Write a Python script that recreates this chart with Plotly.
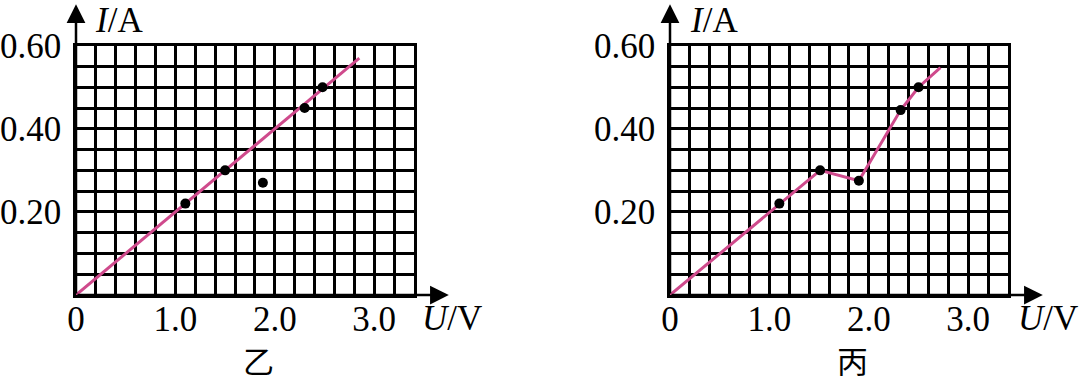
import plotly.graph_objects as go

# ---- data ----
U_yi = [1.10, 1.50, 1.88, 2.30, 2.48]
I_yi = [0.22, 0.30, 0.27, 0.45, 0.50]
U_yi_fit = [0.0, 2.85]
I_yi_fit = [0.0, 0.57]

U_bing = [1.10, 1.51, 1.90, 2.32, 2.50]
I_bing = [0.22, 0.30, 0.275, 0.445, 0.50]
U_bing_line = [0.0, 1.10, 1.51, 1.90, 2.32, 2.50, 2.72]
I_bing_line = [0.0, 0.22, 0.30, 0.275, 0.445, 0.50, 0.547]

x_tickvals = [0, 1.0, 2.0, 3.0]
x_ticktext = ["0", "1.0", "2.0", "3.0"]
y_tickvals = [0.20, 0.40, 0.60]
y_ticktext = ["0.20", "0.40", "0.60"]
panel_names = ["乙", "丙"]

X_MAX, Y_MAX = 3.4, 0.6
X_ARROW, Y_ARROW = 3.75, 0.70

LINE_COLOR = "#cf4a8c"
SERIF = "Liberation Serif"
CJK = "Noto Sans CJK SC"
FS = 35

W, H = 1080, 382
y_dom = [(H - 295) / H, (H - 45.7) / H]
x_doms = [[76 / W, 414 / W], [670 / W, 1008 / W]]

fig = go.Figure()

# left panel
fig.add_trace(go.Scatter(x=U_yi_fit, y=I_yi_fit, mode="lines",
                         line=dict(color=LINE_COLOR, width=3),
                         xaxis="x", yaxis="y", showlegend=False, cliponaxis=False))
fig.add_trace(go.Scatter(x=U_yi, y=I_yi, mode="markers",
                         marker=dict(color="black", size=10),
                         xaxis="x", yaxis="y", showlegend=False))
# right panel
fig.add_trace(go.Scatter(x=U_bing_line, y=I_bing_line, mode="lines",
                         line=dict(color=LINE_COLOR, width=3),
                         xaxis="x2", yaxis="y2", showlegend=False, cliponaxis=False))
fig.add_trace(go.Scatter(x=U_bing, y=I_bing, mode="markers",
                         marker=dict(color="black", size=10),
                         xaxis="x2", yaxis="y2", showlegend=False))


def xaxis_cfg(dom, anchor):
    return dict(domain=dom, anchor=anchor, range=[0, X_MAX], automargin=False,
                tickvals=x_tickvals, ticktext=x_ticktext,
                tickfont=dict(family=SERIF, size=FS, color="black"),
                ticks="", ticklabelstandoff=-9,
                showgrid=True, gridcolor="black", gridwidth=2.5,
                minor=dict(dtick=0.2, tick0=0, showgrid=True, gridcolor="black", gridwidth=2.5),
                showline=True, linecolor="black", linewidth=2.5, mirror=True,
                zeroline=False, fixedrange=True)


def yaxis_cfg(anchor):
    return dict(domain=y_dom, anchor=anchor, range=[0, Y_MAX], automargin=False,
                tickvals=y_tickvals, ticktext=y_ticktext,
                tickfont=dict(family=SERIF, size=FS, color="black"),
                ticks="outside", ticklen=0, ticklabelstandoff=5,
                showgrid=True, gridcolor="black", gridwidth=2.5,
                minor=dict(dtick=0.05, tick0=0, showgrid=True, gridcolor="black", gridwidth=2.5),
                showline=True, linecolor="black", linewidth=2.5, mirror=True,
                zeroline=False, fixedrange=True)


annotations = []
for i, (xr, yr) in enumerate([("x", "y"), ("x2", "y2")]):
    # axis arrows
    annotations.append(dict(x=X_ARROW, y=0, ax=0, ay=0, xref=xr, yref=yr, axref=xr, ayref=yr,
                            text="", showarrow=True, arrowhead=2, arrowsize=1.5,
                            arrowwidth=2.5, arrowcolor="black", standoff=0))
    annotations.append(dict(x=0, y=Y_ARROW, ax=0, ay=0, xref=xr, yref=yr, axref=xr, ayref=yr,
                            text="", showarrow=True, arrowhead=2, arrowsize=1.5,
                            arrowwidth=2.5, arrowcolor="black", standoff=0))

label_pos = [
    dict(ia=(93, 20), uv=(420, 318), name=(258, 359)),
    dict(ia=(688, 20), uv=(1016, 318), name=(852, 359)),
]
for i, lp in enumerate(label_pos):
    annotations.append(dict(text="<i>I</i>/A", xref="paper", yref="paper",
                            x=lp["ia"][0] / W, y=(H - lp["ia"][1]) / H,
                            xanchor="left", yanchor="middle", showarrow=False,
                            font=dict(family=SERIF, size=FS, color="black")))
    annotations.append(dict(text="<i>U</i>/V", xref="paper", yref="paper",
                            x=lp["uv"][0] / W, y=(H - lp["uv"][1]) / H,
                            xanchor="left", yanchor="middle", showarrow=False,
                            font=dict(family=SERIF, size=FS, color="black")))
    annotations.append(dict(text=panel_names[i], xref="paper", yref="paper",
                            x=lp["name"][0] / W, y=(H - lp["name"][1]) / H,
                            xanchor="center", yanchor="middle", showarrow=False,
                            font=dict(family=CJK, size=31, color="black")))

fig.update_layout(
    width=W, height=H,
    margin=dict(l=0, r=0, t=0, b=0, autoexpand=False),
    paper_bgcolor="white", plot_bgcolor="white",
    xaxis=xaxis_cfg(x_doms[0], "y"),
    yaxis=yaxis_cfg("x"),
    xaxis2=xaxis_cfg(x_doms[1], "y2"),
    yaxis2=yaxis_cfg("x2"),
    annotations=annotations,
    showlegend=False,
)

fig.write_html("out.html", config={"displayModeBar": False})
